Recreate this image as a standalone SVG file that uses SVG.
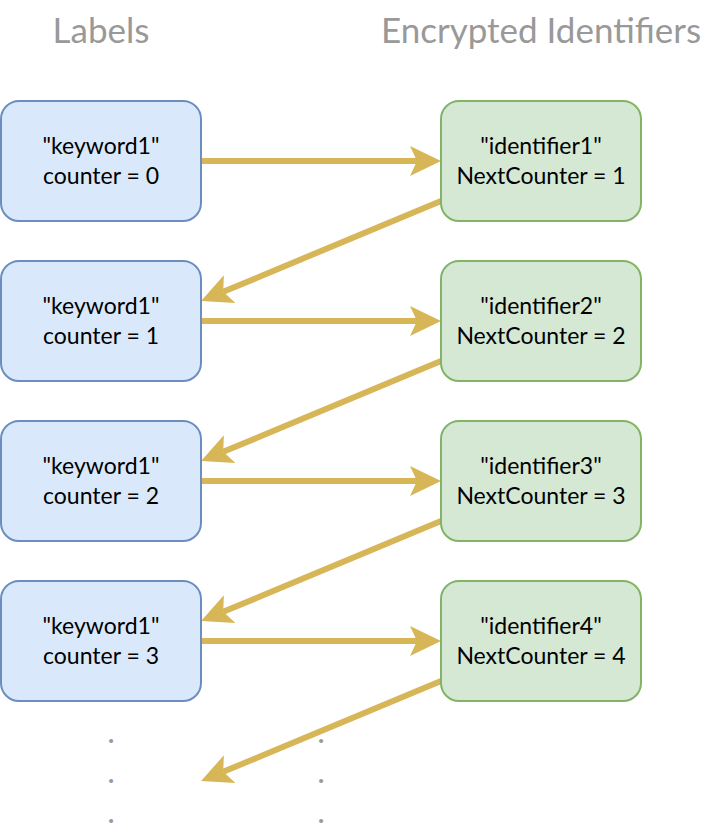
<svg xmlns="http://www.w3.org/2000/svg" width="722" height="832" viewBox="0 0 722 832">
<style>
.title{font-family:Lato,"Open Sans",sans-serif;font-size:35px;fill:#999999;text-anchor:middle}
.t{font-family:Lato,"Open Sans",sans-serif;font-size:23px;fill:#000000;text-anchor:middle}
.dot{font-family:Lato,sans-serif;font-size:26px;font-weight:bold;fill:#999999;text-anchor:middle}
.lab{fill:#dae8fc;stroke:#6c8ebf;stroke-width:2}
.enc{fill:#d5e8d4;stroke:#82b366;stroke-width:2}
.c{fill:none;stroke:#d6b656;stroke-width:6;marker-end:url(#ah)}
</style>
<defs>
<marker id="ah" markerUnits="userSpaceOnUse" markerWidth="32" markerHeight="32" viewBox="0 0 32 32" refX="7" refY="16" orient="auto">
<path d="M31,16 L0,1 L7,16 L0,31 Z" fill="#d6b656"/>
</marker>
</defs>
<text class="title" x="101" y="43">Labels</text>
<text class="title" x="541" y="43">Encrypted Identifiers</text>

<g id="connectors">
<path class="c" d="M201,161 L417,161"/>
<path class="c" d="M441,201 L223.2,291.8"/>
<path class="c" d="M201,321 L417,321"/>
<path class="c" d="M441,361 L223.2,451.8"/>
<path class="c" d="M201,481 L417,481"/>
<path class="c" d="M441,521 L223.2,611.8"/>
<path class="c" d="M201,641 L417,641"/>
<path class="c" d="M441,681 L223.2,771.8"/>
</g>

<g id="label1"><rect class="lab" x="1" y="101" width="200" height="120" rx="18"/><text class="t" x="101" y="154">"keyword1"</text><text class="t" x="101" y="184">counter = 0</text></g>
<g id="label2"><rect class="lab" x="1" y="261" width="200" height="120" rx="18"/><text class="t" x="101" y="314">"keyword1"</text><text class="t" x="101" y="344">counter = 1</text></g>
<g id="label3"><rect class="lab" x="1" y="421" width="200" height="120" rx="18"/><text class="t" x="101" y="474">"keyword1"</text><text class="t" x="101" y="504">counter = 2</text></g>
<g id="label4"><rect class="lab" x="1" y="581" width="200" height="120" rx="18"/><text class="t" x="101" y="634">"keyword1"</text><text class="t" x="101" y="664">counter = 3</text></g>

<g id="id1"><rect class="enc" x="441" y="101" width="200" height="120" rx="18"/><text class="t" x="541" y="154">"identifier1"</text><text class="t" x="541" y="184">NextCounter = 1</text></g>
<g id="id2"><rect class="enc" x="441" y="261" width="200" height="120" rx="18"/><text class="t" x="541" y="314">"identifier2"</text><text class="t" x="541" y="344">NextCounter = 2</text></g>
<g id="id3"><rect class="enc" x="441" y="421" width="200" height="120" rx="18"/><text class="t" x="541" y="474">"identifier3"</text><text class="t" x="541" y="504">NextCounter = 3</text></g>
<g id="id4"><rect class="enc" x="441" y="581" width="200" height="120" rx="18"/><text class="t" x="541" y="634">"identifier4"</text><text class="t" x="541" y="664">NextCounter = 4</text></g>

<g id="dots-left"><text class="dot" x="111" y="743">.</text><text class="dot" x="111" y="783">.</text><text class="dot" x="111" y="823">.</text></g>
<g id="dots-right"><text class="dot" x="321" y="743">.</text><text class="dot" x="321" y="783">.</text><text class="dot" x="321" y="823">.</text></g>
</svg>
